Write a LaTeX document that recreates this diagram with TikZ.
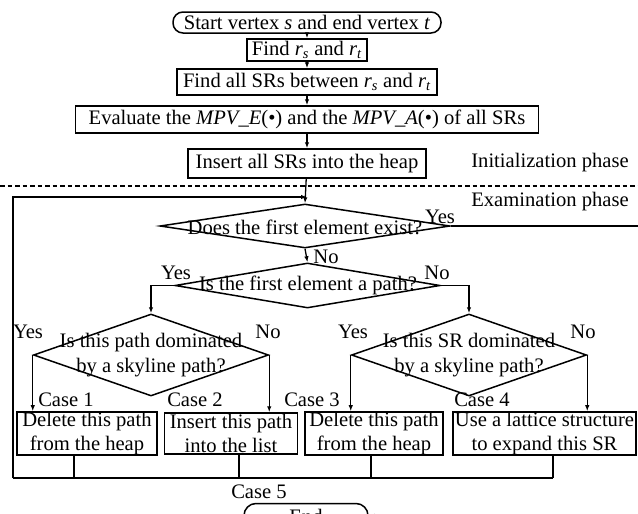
\documentclass[tikz,border=0pt]{standalone}
\usepackage{fontspec}
\setmainfont{Liberation Serif}
\usetikzlibrary{shapes.geometric,arrows.meta}
\newcommand{\sub}[2]{\textit{#1}\textsubscript{\textit{#2}}}
\begin{document}
\begin{tikzpicture}[x=1pt,y=-1pt,
  font=\fontsize{20.6}{24.5}\selectfont,
  box/.style={draw, line width=1.5pt, inner sep=0pt, align=center},
  term/.style={box, rounded corners=10pt},
  dia/.style={draw, diamond, line width=1.5pt, inner sep=0pt},
  lbl/.style={inner sep=0pt, align=center},
  conn/.style={line width=1.3pt},
  arr/.style={conn, -{Latex[length=6pt,width=4.5pt]}},
  phase/.style={line width=1.8pt, dash pattern=on 4.5pt off 3pt}]
\useasboundingbox (0,0) rectangle (638,514);

% initialization phase
\node[term, minimum width=268pt, minimum height=21pt] (start) at (307,22.5) {Start vertex \textit{s} and end vertex \textit{t}};
\node[box, minimum width=120pt, minimum height=22pt] (f1) at (307,50) {Find \sub{r}{s} and \sub{r}{t}};
\node[box, minimum width=260pt, minimum height=26pt] (f2) at (307,82) {Find all SRs between \sub{r}{s} and \sub{r}{t}};
\node[box, minimum width=463pt, minimum height=27pt] (ev) at (307,119.5) {Evaluate the \textit{MPV\_E}(•) and the \textit{MPV\_A}(•) of all SRs};
\node[box, minimum width=238pt, minimum height=29pt] (ins) at (307,163.5) {Insert all SRs into the heap};
\node[lbl] (init) at (550,163) {Initialization phase};

\draw[arr] (start) -- (f1);
\draw[arr] (f1) -- (f2);
\draw[arr] (f2) -- (ev);
\draw[arr] (ev) -- (ins);

\coordinate (dl) at (0,186);
\coordinate (dr) at (638,186);
\draw[phase] (dl) -- (dr);
\node[lbl] (exam) at (550,202) {Examination phase};

% examination phase
\node[dia, minimum width=290pt, minimum height=44pt] (d1) at (305,226) {};
\node[lbl] (d1t) at (305,227) {Does the first element exist?};
\node[dia, minimum width=265pt, minimum height=45pt] (d2) at (307.5,285.5) {};
\node[lbl] (d2t) at (308,285) {Is the first element a path?};
\node[dia, minimum width=235pt, minimum height=82pt] (d3) at (151,355) {};
\node[lbl] (d3t) at (151,355) {Is this path dominated\\by a skyline path?};
\node[dia, minimum width=235pt, minimum height=82pt] (d4) at (469,355) {};
\node[lbl] (d4t) at (469,355) {Is this SR dominated\\by a skyline path?};

\draw[arr] (ins) -- (d1.north);
\draw[arr] (d1.south) -- (d2.north);
\node[lbl] (no1) at (326,257) {No};
\node[lbl] (yes1) at (440,217) {Yes};

\draw[arr] (d2.west) -| (d3.north);
\draw[arr] (d2.east) -| (d4.north);
\node[lbl] (yes2) at (176,273) {Yes};
\node[lbl] (no2) at (437,273) {No};

\node[box, minimum width=140pt, minimum height=41pt] (b1) at (87,433.5) {Delete this path\\from the heap};
\node[box, minimum width=133pt, minimum height=41pt] (b2) at (231,433.5) {Insert this path\\into the list};
\node[box, minimum width=138pt, minimum height=41pt] (b3) at (374,433.5) {Delete this path\\from the heap};
\node[box, minimum width=183pt, minimum height=41pt] (b4) at (544.5,433.5) {Use a lattice structure\\to expand this SR};

\draw[arr] (d3.west) -- (d3.west |- b1.north);
\draw[arr] (d3.east) -- (d3.east |- b2.north);
\draw[arr] (d4.west) -- (d4.west |- b3.north);
\draw[arr] (d4.east) -- (d4.east |- b4.north);

\node[lbl] (yes3) at (28,332) {Yes};
\node[lbl] (no3) at (268,332) {No};
\node[lbl] (yes4) at (353,332) {Yes};
\node[lbl] (no4) at (583,332) {No};
\node[lbl] (c1) at (66,400) {Case 1};
\node[lbl] (c2) at (195,400) {Case 2};
\node[lbl] (c3) at (312,400) {Case 3};
\node[lbl] (c4) at (482,400) {Case 4};

% loop back
\coordinate (j1) at (74,478);
\coordinate (j2) at (239,478);
\coordinate (j3) at (371,478);
\coordinate (j4) at (553,478);
\coordinate (jL) at (13,478);
\coordinate (jT) at (13,197);
\coordinate (jA) at (307,197);
\draw[conn] (b1.south -| j1) -- (j1);
\draw[conn] (b2.south -| j2) -- (j2);
\draw[conn] (b3.south -| j3) -- (j3);
\draw[conn] (b4.south -| j4) -- (j4);
\draw[conn] (jL) -- (j4);
\draw[arr] (jL) -- (jT) -- (jA);
\node[lbl] (c5) at (259,492) {Case 5};

% end
\node[term, minimum width=124pt, minimum height=25pt, rounded corners=12pt] (end) at (306,516) {End};
\coordinate (r1) at (662,226);
\coordinate (r2) at (662,516);
\draw[arr] (d1.east) -- (r1) -- (r2) -- (end.east);
\end{tikzpicture}
\end{document}
